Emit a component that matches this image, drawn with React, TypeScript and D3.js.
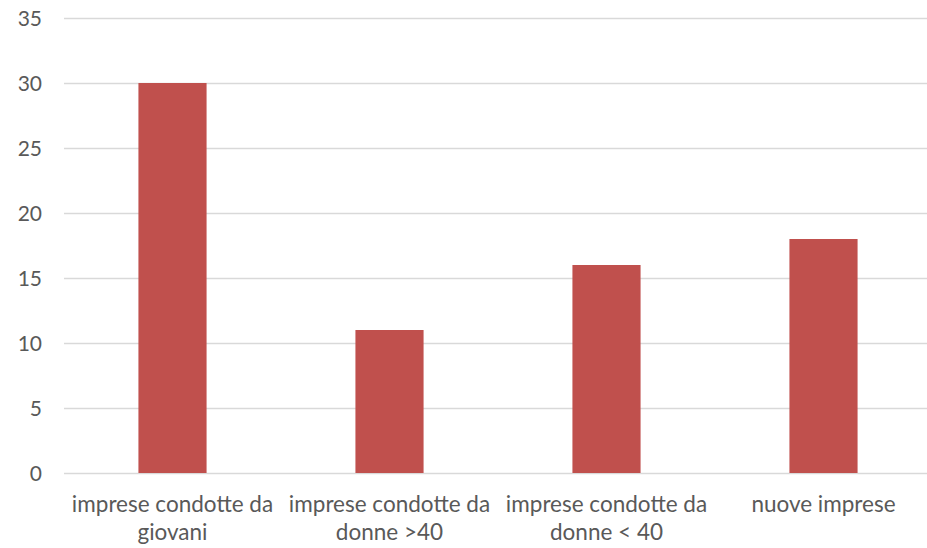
import React, { useEffect, useRef } from 'react';
import * as d3 from 'd3';

const categories = [
  ['imprese condotte da', 'giovani'],
  ['imprese condotte da', 'donne >40'],
  ['imprese condotte da', 'donne < 40'],
  ['nuove imprese'],
];
const values = [30, 11, 16, 18];
const yTicks = [0, 5, 10, 15, 20, 25, 30, 35];

const W = 927;
const H = 548;

export default function App() {
  const svgRef = useRef<SVGSVGElement>(null);

  useEffect(() => {
    if (!svgRef.current) return;
    const svg = d3.select(svgRef.current);
    svg.selectAll('*').remove();

    const font = 'Lato, "Open Sans", sans-serif';
    const labels = categories.map(c => c.join(' '));

    const x = d3.scaleBand<string>()
      .domain(labels)
      .range([64, 932])
      .paddingInner(0.686)
      .paddingOuter(0.343);
    const y = d3.scaleLinear().domain([0, 35]).range([473, 18]);

    // gridlines
    svg.append('g')
      .selectAll('line')
      .data(yTicks)
      .join('line')
      .attr('x1', 64)
      .attr('x2', W)
      .attr('y1', d => Math.round(y(d)) + 0.5)
      .attr('y2', d => Math.round(y(d)) + 0.5)
      .attr('stroke', '#d9d9d9')
      .attr('stroke-width', 1.3);

    // y labels
    svg.append('g')
      .selectAll('text')
      .data(yTicks)
      .join('text')
      .attr('x', 42)
      .attr('y', d => y(d))
      .attr('dy', '0.36em')
      .attr('text-anchor', 'end')
      .attr('font-family', font)
      .attr('font-size', 21)
      .attr('fill', '#595959')
      .text(d => d);

    // bars
    svg.append('g')
      .selectAll('rect')
      .data(values)
      .join('rect')
      .attr('x', (_, i) => x(labels[i])!)
      .attr('width', x.bandwidth())
      .attr('y', d => y(d))
      .attr('height', d => y(0) - y(d))
      .attr('fill', '#c0504d');

    // category labels
    const cat = svg.append('g')
      .selectAll('text')
      .data(categories)
      .join('text')
      .attr('x', (_, i) => x(labels[i])! + x.bandwidth() / 2)
      .attr('y', 512)
      .attr('text-anchor', 'middle')
      .attr('font-family', font)
      .attr('font-size', 22.5)
      .attr('fill', '#595959');
    cat.selectAll('tspan')
      .data(d => d)
      .join('tspan')
      .attr('x', function () { return (this.parentNode as SVGTextElement).getAttribute('x'); })
      .attr('dy', (_, j) => (j === 0 ? 0 : 28))
      .text(d => d);
  }, []);

  return (
    <svg
      ref={svgRef}
      width={W}
      height={H}
      style={{ position: 'absolute', left: 0, top: 0, background: '#fff' }}
    />
  );
}
